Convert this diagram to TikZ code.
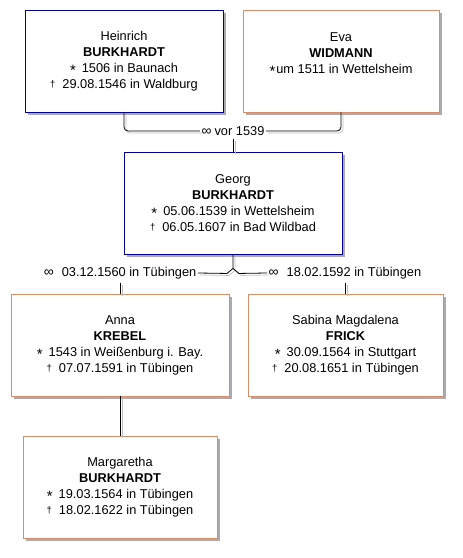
\documentclass[tikz,border=0pt]{standalone}
\usepackage{fontspec}
\setmainfont{Liberation Sans}
\usetikzlibrary{shadows}
\definecolor{maleblue}{RGB}{0,0,140}
\definecolor{femaleorange}{RGB}{214,142,104}
\definecolor{shadegray}{RGB}{172,172,176}
\definecolor{linegray}{RGB}{190,190,190}
\newcommand{\born}{\raisebox{-3pt}{\fontsize{15}{15}\selectfont *}\hspace{6pt}}
\newcommand{\died}{\raisebox{1pt}{\fontsize{9.5}{9.5}\selectfont †}\hspace{7pt}}
\newcommand{\marr}{{\fontsize{14}{14}\selectfont ∞}}
\newcommand{\famlink}[1]{\draw[famshade] #1; \draw[famline] #1;}
\tikzset{
  x=1pt,y=-1pt,
  person/.style={draw,line width=0.9pt,fill=white,minimum height=102pt,
    align=center,inner sep=2pt,font=\fontsize{12.8}{16}\selectfont,
    drop shadow={shadow xshift=3pt,shadow yshift=-3pt,fill=shadegray,opacity=1}},
  malebox/.style={person,draw=maleblue},
  femalebox/.style={person,draw=femaleorange},
  marrlbl/.style={font=\fontsize{12.8}{14}\selectfont,inner sep=1.5pt},
  famline/.style={line width=0.8pt,black},
  famshade/.style={line width=0.7pt,linegray,
    transform canvas={shift={(2pt,-2pt)}}},
}
\begin{document}
\begin{tikzpicture}
  \useasboundingbox (0,0) rectangle (463,558);
  \node[malebox,minimum width=198pt] (heinrich) at (124,61)
    {Heinrich\\\textbf{BURKHARDT}\\\born 1506 in Baunach\\\died 29.08.1546 in Waldburg};
  \node[femalebox,minimum width=196pt] (eva) at (341,61)
    {Eva\\\textbf{WIDMANN}\\\raisebox{-3pt}{\fontsize{15}{15}\selectfont *}\hspace{1pt}um 1511 in Wettelsheim\\\mbox{}};
  \node[malebox,minimum width=218pt] (georg) at (233,203)
    {Georg\\\textbf{BURKHARDT}\\\born 05.06.1539 in Wettelsheim\\\died 06.05.1607 in Bad Wildbad};
  \node[femalebox,minimum width=218pt] (anna) at (120,345)
    {Anna\\\textbf{KREBEL}\\\born 1543 in Weißenburg i. Bay.\\\died 07.07.1591 in Tübingen};
  \node[femalebox,minimum width=195pt] (sabina) at (345.5,345)
    {Sabina Magdalena\\\textbf{FRICK}\\\born 30.09.1564 in Stuttgart\\\died 20.08.1651 in Tübingen};
  \node[femalebox,minimum width=194pt] (marga) at (120,487)
    {Margaretha\\\textbf{BURKHARDT}\\\born 19.03.1564 in Tübingen\\\died 18.02.1622 in Tübingen};

  \node[marrlbl] (m1) at (233,131) {\marr\hspace{3pt}vor 1539};
  \node[marrlbl,anchor=east] (m2) at (198,273) {\marr\hspace{8pt}03.12.1560 in Tübingen};
  \node[marrlbl,anchor=west] (m3) at (267,273) {\marr\hspace{8pt}18.02.1592 in Tübingen};
  \coordinate (fork) at ([yshift=-14pt]georg.south);

  \famlink{[rounded corners=4pt] (heinrich.south) |- (m1.west)}
  \famlink{[rounded corners=4pt] (eva.south) |- (m1.east)}
  \famlink{[shorten <=2pt] (m1.south) -- (georg.north)}
  \famlink{(georg.south) -- (fork) -- ++(-6,5) -- (m2.east)}
  \famlink{(fork) -- ++(6,5) -- (m3.west)}
  \famlink{[shorten <=2pt] (m2.south -| anna.north) -- (anna.north)}
  \famlink{[shorten <=2pt] (m3.south -| sabina.north) -- (sabina.north)}
  \famlink{(anna.south) -- (marga.north)}
\end{tikzpicture}
\end{document}
